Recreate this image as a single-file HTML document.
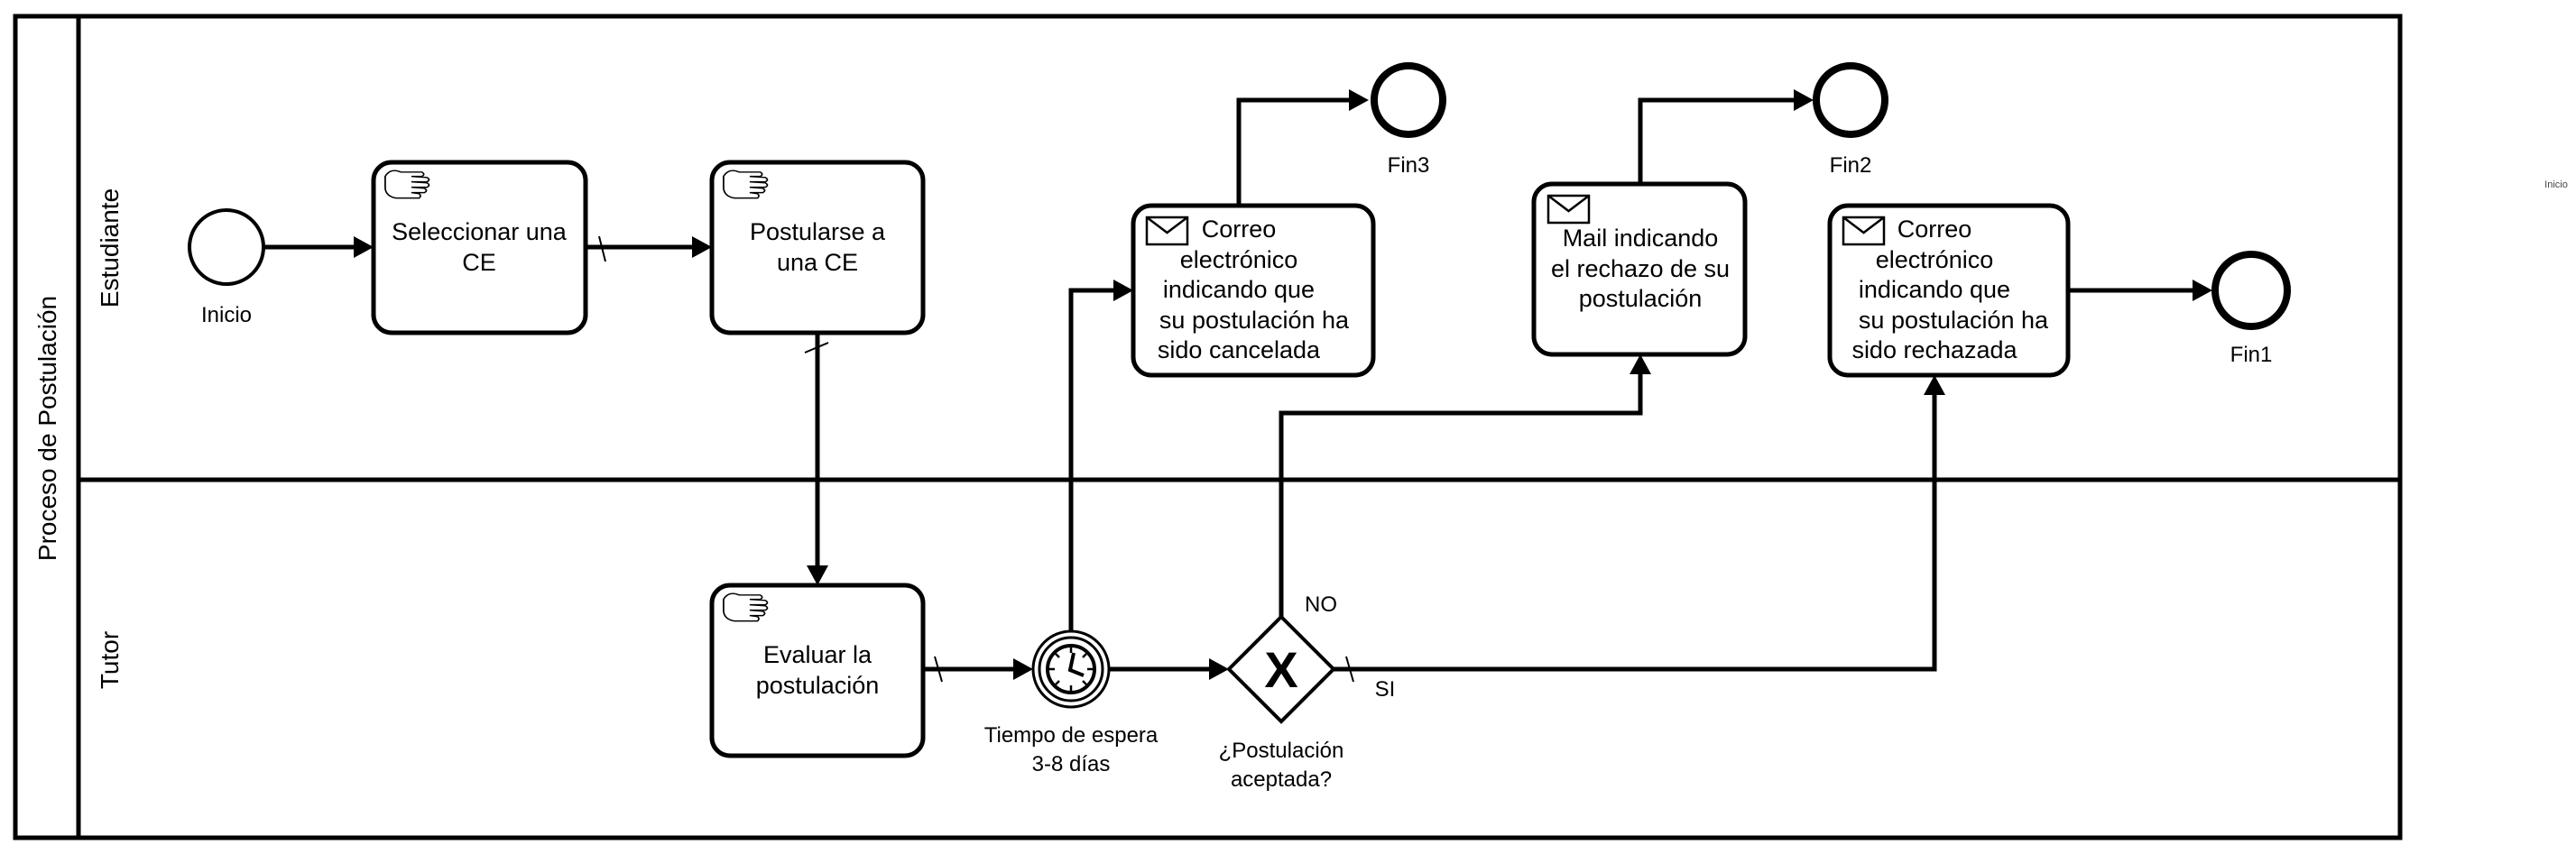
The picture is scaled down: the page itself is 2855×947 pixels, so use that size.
<!DOCTYPE html>
<html><head><meta charset="utf-8"><style>
html,body{margin:0;padding:0;background:#fff;}
svg{display:block;}
text{font-family:"Liberation Sans",sans-serif;fill:#000;}
</style></head><body>
<svg width="2855" height="947" viewBox="0 0 2855 947" xmlns="http://www.w3.org/2000/svg">
<defs>
<g id="hand" fill="#fff" stroke="#000" stroke-width="1.2">
<path d="M2,8 Q6,0 14,4 L30,4 Q33,6 30,8 L22,8 L34,9 Q37,11 34,13 L22,13 L34,14 Q37,16 34,18 L22,18 L32,19 Q35,21 32,23 L22,23 L28,24 Q30,26 28,28 L10,28 Q2,26 2,18 Z"/>
</g>
<g id="mail" fill="#fff" stroke="#000" stroke-width="2.5">
<rect x="0" y="0" width="45" height="30"/>
<path d="M0,0 L22.5,17 L45,0" fill="none"/>
</g>
</defs>
<rect x="0" y="0" width="2855" height="947" fill="#fff"/>
<!-- pool -->
<g fill="none" stroke="#000" stroke-width="5">
<rect x="17" y="18" width="2643" height="911"/>
<line x1="87" y1="18" x2="87" y2="929"/>
<line x1="87" y1="532" x2="2660" y2="532"/>
</g>
<text transform="translate(62,475) rotate(-90)" font-size="28" text-anchor="middle">Proceso de Postulación</text>
<text transform="translate(131,275) rotate(-90)" font-size="28" text-anchor="middle">Estudiante</text>
<text transform="translate(131,732) rotate(-90)" font-size="28" text-anchor="middle">Tutor</text>

<!-- connectors -->
<g fill="none" stroke="#000" stroke-width="5">
<line x1="292" y1="274" x2="396" y2="274"/>
<line x1="649" y1="274" x2="771" y2="274"/>
<line x1="906" y1="369" x2="906" y2="631"/>
<line x1="1023" y1="742" x2="1126" y2="742"/>
<line x1="1230" y1="742" x2="1344" y2="742"/>
<polyline points="1187,699 1187,322 1238,322"/>
<polyline points="1373,228 1373,111 1498,111"/>
<polyline points="1420,684 1420,458 1818,458 1818,411"/>
<polyline points="1818,204 1818,111 1990,111"/>
<polyline points="1478,742 2144,742 2144,434"/>
<line x1="2292" y1="322" x2="2432" y2="322"/>
</g>
<g fill="#000">
<polygon points="414,274 392,262 392,286"/>
<polygon points="789,274 767,262 767,286"/>
<polygon points="906,649 894,627 918,627"/>
<polygon points="1145,742 1123,730 1123,754"/>
<polygon points="1362,742 1340,730 1340,754"/>
<polygon points="1256,322 1234,310 1234,334"/>
<polygon points="1517,111 1495,99 1495,123"/>
<polygon points="1818,393 1806,415 1830,415"/>
<polygon points="2010,111 1988,99 1988,123"/>
<polygon points="2144,416 2132,438 2156,438"/>
<polygon points="2452,322 2430,310 2430,334"/>
</g>
<!-- slashes -->
<g stroke="#000" stroke-width="2">
<line x1="664" y1="262" x2="671" y2="290"/>
<line x1="892" y1="391" x2="918" y2="380"/>
<line x1="1036" y1="728" x2="1044" y2="756"/>
<line x1="1492" y1="728" x2="1500" y2="756"/>
</g>

<!-- start -->
<circle cx="251" cy="274" r="41" fill="#fff" stroke="#000" stroke-width="4"/>
<text x="251" y="357" font-size="24" text-anchor="middle">Inicio</text>

<!-- tasks -->
<g fill="#fff" stroke="#000" stroke-width="5">
<rect x="414" y="180" width="235" height="189" rx="20"/>
<rect x="789" y="180" width="234" height="189" rx="20"/>
<rect x="789" y="649" width="234" height="189" rx="20"/>
<rect x="1256" y="228" width="266" height="188" rx="20"/>
<rect x="1700" y="204" width="234" height="189" rx="20"/>
<rect x="2028" y="228" width="264" height="188" rx="20"/>
</g>
<use href="#hand" transform="translate(424,186) scale(1.45,1.2)"/>
<use href="#hand" transform="translate(799,186) scale(1.45,1.2)"/>
<use href="#hand" transform="translate(799,655) scale(1.45,1.2)"/>
<use href="#mail" x="1271" y="241"/>
<use href="#mail" x="1716" y="217"/>
<use href="#mail" x="2043" y="241"/>

<g font-size="27" text-anchor="middle">
<text x="531" y="266">Seleccionar una</text>
<text x="531" y="300">CE</text>
<text x="906" y="266">Postularse a</text>
<text x="906" y="300">una CE</text>
<text x="906" y="735">Evaluar la</text>
<text x="906" y="769">postulación</text>
<text x="1373" y="263">Correo</text>
<text x="1373" y="297">electrónico</text>
<text x="1373" y="330">indicando que</text>
<text x="1390" y="364">su postulación ha</text>
<text x="1373" y="397">sido cancelada</text>
<text x="1818" y="273">Mail indicando</text>
<text x="1818" y="307">el rechazo de su</text>
<text x="1818" y="340">postulación</text>
<text x="2144" y="263">Correo</text>
<text x="2144" y="297">electrónico</text>
<text x="2144" y="330">indicando que</text>
<text x="2165" y="364">su postulación ha</text>
<text x="2144" y="397">sido rechazada</text>
</g>

<!-- timer -->
<g fill="#fff" stroke="#000">
<circle cx="1187" cy="742" r="42" stroke-width="3"/>
<circle cx="1187" cy="742" r="35" stroke-width="3"/>
<circle cx="1187" cy="742" r="26" stroke-width="4"/>
</g>
<g stroke="#000" stroke-width="2.5">
<line x1="1187" y1="718" x2="1187" y2="724"/>
<line x1="1187" y1="760" x2="1187" y2="766"/>
<line x1="1163" y1="742" x2="1169" y2="742"/>
<line x1="1205" y1="742" x2="1211" y2="742"/>
<line x1="1170" y1="725" x2="1174" y2="729"/>
<line x1="1204" y1="759" x2="1200" y2="755"/>
<line x1="1204" y1="725" x2="1200" y2="729"/>
<line x1="1170" y1="759" x2="1174" y2="755"/>
<polyline points="1190,724 1186,743 1201,749" fill="none" stroke-width="4"/>
</g>
<text x="1187" y="823" font-size="24" text-anchor="middle">Tiempo de espera</text>
<text x="1187" y="855" font-size="24" text-anchor="middle">3-8 días</text>

<!-- gateway -->
<polygon points="1420,684 1478,742 1420,800 1362,742" fill="#fff" stroke="#000" stroke-width="4"/>
<text x="1420" y="762" font-size="56" font-weight="bold" text-anchor="middle">X</text>
<text x="1420" y="840" font-size="24" text-anchor="middle">¿Postulación</text>
<text x="1420" y="872" font-size="24" text-anchor="middle">aceptada?</text>
<text x="1464" y="678" font-size="24" text-anchor="middle">NO</text>
<text x="1535" y="772" font-size="24" text-anchor="middle">SI</text>

<!-- end events -->
<g fill="#fff" stroke="#000" stroke-width="8">
<circle cx="1561" cy="111" r="38"/>
<circle cx="2051" cy="111" r="38"/>
<circle cx="2495" cy="322" r="40"/>
</g>
<text x="1561" y="191" font-size="24" text-anchor="middle">Fin3</text>
<text x="2051" y="191" font-size="24" text-anchor="middle">Fin2</text>
<text x="2495" y="401" font-size="24" text-anchor="middle">Fin1</text>

<text x="2833" y="208" font-size="11" text-anchor="middle" style="fill:#444">Inicio</text>
</svg>
</body></html>
